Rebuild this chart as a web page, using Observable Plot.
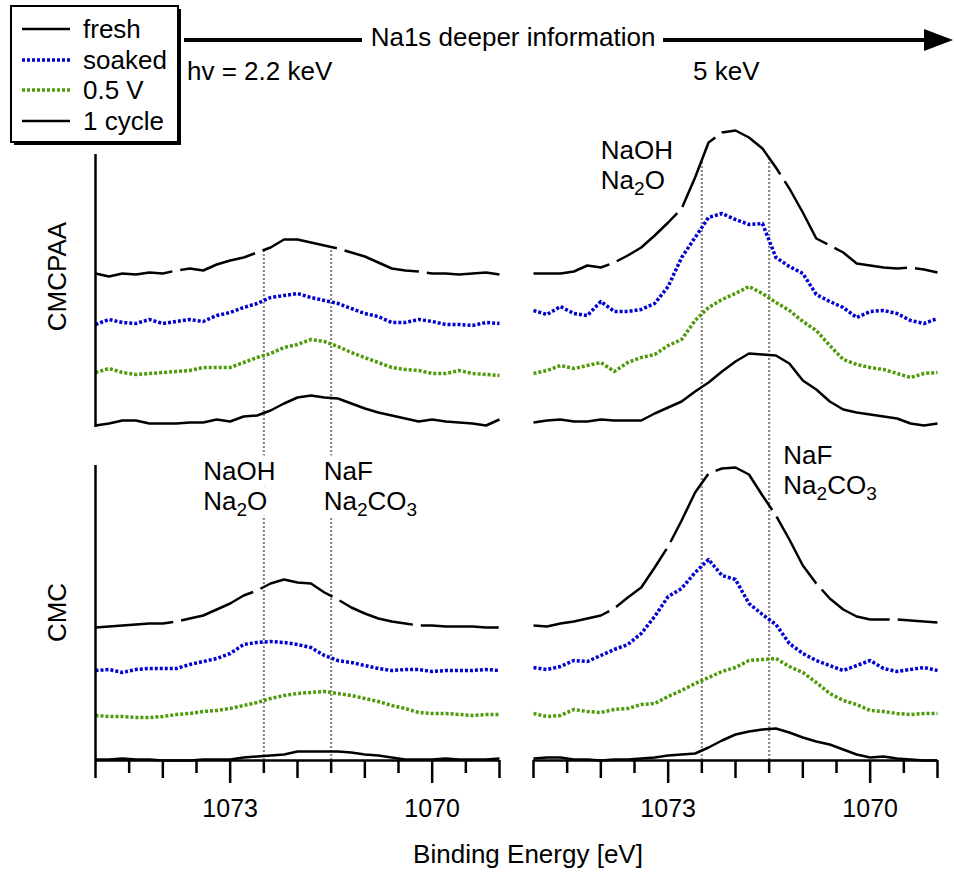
<!DOCTYPE html>
<html><head><meta charset="utf-8">
<script src="https://cdn.jsdelivr.net/npm/d3@7"></script>
<script src="https://cdn.jsdelivr.net/npm/@observablehq/plot@0.6"></script>
<style>
body{margin:0;background:#fff;}
#wrap{position:relative;width:954px;height:874px;font-family:"Liberation Sans",Arial,sans-serif;}
#overlay{position:absolute;left:0;top:0;pointer-events:none;}
</style></head><body><div id="wrap"></div>
<script>
// ---- data ----
const energies = ["2.2 keV", "5 keV"];
const samples = ["CMCPAA", "CMC"];
const states = ["fresh", "soaked", "0.5 V", "1 cycle"];
const bindingEnergy = [1075.0,1074.8,1074.6,1074.4,1074.2,1074.0,1073.8,1073.6,1073.4,1073.2,1073.0,1072.8,1072.6,1072.4,1072.2,1072.0,1071.8,1071.6,1071.4,1071.2,1071.0,1070.8,1070.6,1070.4,1070.2,1070.0,1069.8,1069.6,1069.4,1069.2,1069.0];
// vertical offsets of the stacked spectra (fresh, soaked, 0.5 V, 1 cycle)
const offsetCMCPAA = [487, 438, 388, 338];
const offsetCMC = [135, 90, 45, 0];
// CMCPAA, hv = 2.2 keV
const pa22Fresh  = [0,-3,0,-1,1,0,3,5,3,9,13,16,21,26,34,34,31,28,25,21,17,11,5,3,2,0,0,-1,0,1,-1];
const pa22Soaked = [-2,3,0,-1,3,-1,1,3,1,7,10,15,19,25,27,29,25,22,19,14,9,6,0,0,3,1,-2,-2,-3,0,-1];
const pa22Half   = [0,4,0,-2,-1,0,1,2,5,5,5,10,15,19,25,28,33,31,26,20,15,10,5,3,2,-1,-1,2,-1,-2,-3];
const pa22Cycle  = [-3,-1,2,2,-1,-1,-1,0,0,3,1,6,7,12,19,25,27,25,24,19,14,10,7,4,1,3,1,0,-1,-3,3];
// CMCPAA, 5 keV
const pa5Fresh  = [0,0,0,2,8,6,11,18,26,38,51,65,96,131,141,143,136,125,106,85,61,35,28,21,10,8,6,5,6,4,1];
const pa5Soaked = [12,8,16,9,7,21,11,11,13,19,36,65,85,105,109,103,98,99,65,56,49,28,21,15,5,11,12,9,2,-1,4];
const pa5Half   = [-1,2,7,4,7,10,1,10,15,18,27,33,52,65,73,79,86,79,70,62,51,42,27,13,8,5,3,-1,-5,-1,0];
const pa5Cycle  = [0,2,3,1,1,3,2,2,2,9,15,21,31,40,51,61,69,68,67,59,42,33,21,13,10,8,6,4,-1,-3,-1];
// CMC, hv = 2.2 keV
const cmc22Fresh  = [-2,-1,0,1,2,2,4,7,10,16,22,30,35,42,46,43,42,33,26,18,12,7,4,2,0,0,-1,-1,-1,-2,-2];
const cmc22Soaked = [0,1,-2,1,2,2,2,6,9,12,17,26,28,29,28,26,23,15,10,8,5,2,0,1,1,-1,0,0,0,1,0];
const cmc22Half   = [0,-1,-1,-2,-2,-1,1,2,4,5,7,10,13,17,20,22,23,24,22,20,17,14,10,7,3,2,2,1,0,1,1];
const cmc22Cycle  = [1,1,2,1,1,0,0,0,1,1,1,3,4,5,6,9,9,9,9,8,6,5,3,1,1,1,2,1,1,1,2];
// CMC, 5 keV
const cmc5Fresh  = [0,-1,2,4,7,10,17,28,38,58,79,105,133,152,157,158,151,130,110,86,60,42,27,16,9,6,6,6,5,4,3];
const cmc5Soaked = [3,1,4,10,9,15,21,26,37,54,74,82,98,111,95,91,67,56,46,27,17,10,5,0,5,10,2,-1,1,3,0];
const cmc5Half   = [2,-1,0,6,4,3,6,7,11,12,19,25,32,38,44,48,55,56,57,49,43,33,22,15,11,5,4,2,1,2,2];
const cmc5Cycle  = [2,3,3,1,1,0,1,1,2,3,5,6,7,13,20,26,29,31,32,28,23,19,16,11,6,3,4,2,1,0,0];
// reference binding energies (dotted lines) and axis ticks
const refLines = [1072.5, 1071.5];
const labeledTicks = [1073, 1070];
const integerTicks = [1075, 1074, 1072, 1071, 1069];
const halfTicks = [1074.5, 1073.5, 1072.5, 1071.5, 1070.5, 1069.5];

// ---- build table ----
const series = [
  {energy: "2.2 keV", sample: "CMCPAA", curves: [pa22Fresh, pa22Soaked, pa22Half, pa22Cycle], off: offsetCMCPAA},
  {energy: "5 keV",   sample: "CMCPAA", curves: [pa5Fresh, pa5Soaked, pa5Half, pa5Cycle], off: offsetCMCPAA},
  {energy: "2.2 keV", sample: "CMC",    curves: [cmc22Fresh, cmc22Soaked, cmc22Half, cmc22Cycle], off: offsetCMC},
  {energy: "5 keV",   sample: "CMC",    curves: [cmc5Fresh, cmc5Soaked, cmc5Half, cmc5Cycle], off: offsetCMC}
];
const rows = [];
for (const s of series) {
  s.curves.forEach((vals, i) => vals.forEach((v, j) => rows.push({
    energy: s.energy, sample: s.sample, state: states[i], e: bindingEnergy[j], y: v + s.off[i]
  })));
}
// dotted lines run from the axis up to the top (fresh CMCPAA) spectrum
function interp(vals, e) {
  const t = (bindingEnergy[0] - e) / (bindingEnergy[0] - bindingEnergy[1]);
  const i = Math.floor(t), f = t - i;
  return vals[i] * (1 - f) + vals[Math.min(i + 1, vals.length - 1)] * f;
}
const refRows = [];
for (const s of series.filter(d => d.sample === "CMCPAA")) {
  for (const r of refLines) refRows.push({energy: s.energy, e: r, top: interp(s.curves[0], r) + s.off[0]});
}

const stateColor = ["#000000", "#0000d2", "#4f9a0a", "#000000"];
const stateWidth = [2.5, 3.5, 3.5, 2.5];
const stateDash = ["78,8", "3,2", "3,2", null];

const annotations = [
  {energy: "5 keV",   e: 1074.0,  y: 623, text: "NaOH\nNa2O"},
  {energy: "2.2 keV", e: 1073.4,  y: 302, text: "NaOH\nNa2O"},
  {energy: "2.2 keV", e: 1071.61, y: 302, text: "NaF\nNa2CO3"},
  {energy: "5 keV",   e: 1071.29, y: 318, text: "NaF\nNa2CO3"}
];
const rowLabels = [
  {energy: "2.2 keV", e: 1075.56, y: 484, text: "CMCPAA"},
  {energy: "2.2 keV", e: 1075.56, y: 148, text: "CMC"}
];
const yAxisSegments = [
  {energy: "2.2 keV", e: 1075, y1: 0, y2: 295},
  {energy: "2.2 keV", e: 1075, y1: 333, y2: 606}
];
const annoOpts = {x: "e", y: "y", fx: "energy", text: "text", textAnchor: "start", lineAnchor: "top", lineHeight: 1.16, fontSize: 26};

const plot = Plot.plot({
  width: 954, height: 874,
  marginLeft: 94, marginRight: 16, marginTop: 160, marginBottom: 114,
  style: {fontFamily: '"Liberation Sans", Arial, sans-serif', fontSize: "25px", color: "#000", background: "white", overflow: "visible"},
  x: {domain: [1075, 1069], label: null},
  y: {domain: [0, 600], axis: null},
  fx: {domain: energies, paddingInner: 0.0774, paddingOuter: 0, axis: null, label: null},
  marks: [
    Plot.ruleX(refRows, {x: "e", y1: 0, y2: "top", fx: "energy", stroke: "#888888", strokeWidth: 2.2, strokeDasharray: "2,2"}),
    // white halo behind the chemical labels (hides the dotted lines), then the labels themselves
    Plot.text(annotations, {...annoOpts, fill: "white", stroke: "white", strokeWidth: 14, strokeLinejoin: "round"}),
    Plot.text(annotations, {...annoOpts, fill: "black"}),
    ...states.map((st, i) => Plot.line(rows.filter(r => r.state === st), {
      x: "e", y: "y", fx: "energy", z: "sample", stroke: stateColor[i], strokeWidth: stateWidth[i],
      strokeDasharray: stateDash[i], strokeLinejoin: "round", strokeLinecap: "butt"
    })),
    Plot.ruleY([0], {strokeWidth: 2.5}),
    Plot.ruleX(yAxisSegments, {x: "e", y1: "y1", y2: "y2", fx: "energy", strokeWidth: 2.5}),
    Plot.text(rowLabels, {x: "e", y: "y", fx: "energy", text: "text", rotate: -90, fontSize: 26, fill: "black"}),
    Plot.axisX({ticks: halfTicks, tickSize: 13, tickFormat: () => "", strokeWidth: 2.5, label: null}),
    Plot.axisX({ticks: integerTicks, tickSize: 18, tickFormat: () => "", strokeWidth: 2.5, label: null}),
    Plot.axisX({ticks: labeledTicks, tickSize: 23, tickPadding: 16, tickFormat: "d", fontSize: 25, strokeWidth: 2.5, label: null})
  ]
});

// chemical subscripts
plot.querySelectorAll("tspan, text").forEach(el => {
  if (el.children.length) return;
  const t = el.textContent;
  if (t === "Na2O") el.innerHTML = 'Na<tspan dy="6" font-size="19">2</tspan><tspan dy="-6">O</tspan>';
  else if (t === "Na2CO3") el.innerHTML = 'Na<tspan dy="6" font-size="19">2</tspan><tspan dy="-6">CO</tspan><tspan dy="6" font-size="19">3</tspan>';
});

const wrap = document.getElementById("wrap");
wrap.appendChild(plot);

// ---- overlay: legend, depth arrow, photon energies, axis title ----
const ov = d3.select(wrap).append("svg").attr("id", "overlay").attr("width", 954).attr("height", 874)
  .style("font-family", '"Liberation Sans", Arial, sans-serif').style("font-size", "26px");

// depth arrow
ov.append("line").attr("x1", 184).attr("x2", 928).attr("y1", 40).attr("y2", 40).attr("stroke", "black").attr("stroke-width", 4);
ov.append("polygon").attr("points", "924,29 953,40 924,51").attr("fill", "black");
ov.append("rect").attr("x", 362).attr("y", 22).attr("width", 301).attr("height", 32).attr("fill", "white");
ov.append("text").attr("x", 513).attr("y", 46).attr("text-anchor", "middle").text("Na1s deeper information");
ov.append("text").attr("x", 187).attr("y", 80).text("hv = 2.2 keV");
ov.append("text").attr("x", 693).attr("y", 80).text("5 keV");
ov.append("text").attr("x", 528).attr("y", 863).attr("text-anchor", "middle").text("Binding Energy [eV]");

// legend
const lg = ov.append("g");
lg.append("rect").attr("x", 14).attr("y", 9).attr("width", 167).attr("height", 136).attr("fill", "black");
lg.append("rect").attr("x", 11).attr("y", 6).attr("width", 167).attr("height", 136).attr("fill", "white").attr("stroke", "black").attr("stroke-width", 2);
const rowY = [29, 60, 90, 121];
states.forEach((st, i) => {
  lg.append("line").attr("x1", 22).attr("x2", 70).attr("y1", rowY[i]).attr("y2", rowY[i])
    .attr("stroke", stateColor[i]).attr("stroke-width", stateWidth[i]).attr("stroke-dasharray", stateDash[i]);
  lg.append("text").attr("x", 83).attr("y", rowY[i] + 9).text(st);
});
</script></body></html>
